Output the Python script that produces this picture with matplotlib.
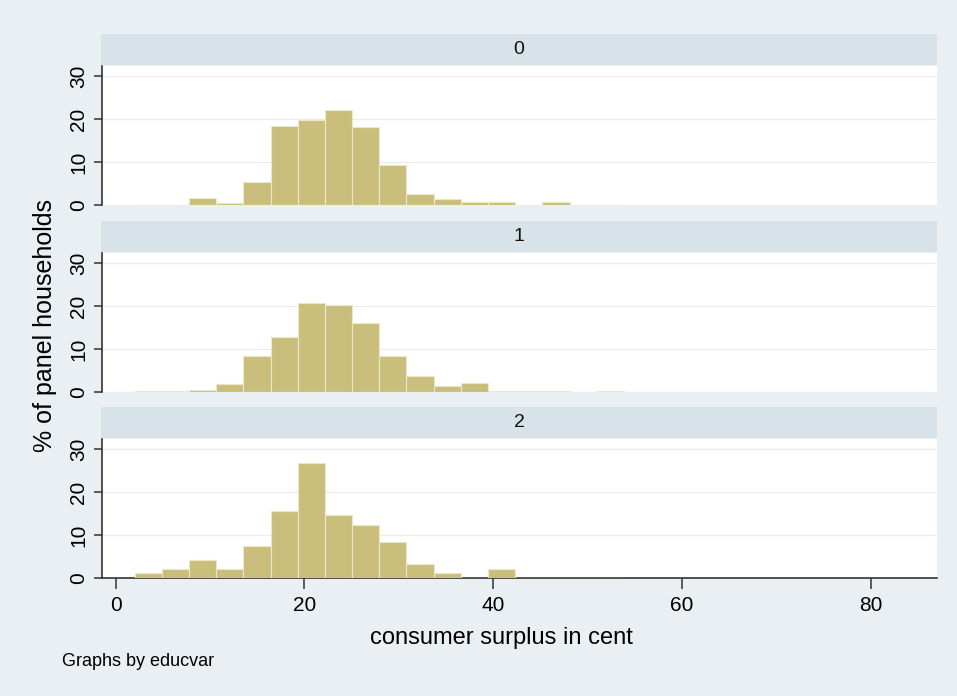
import numpy as np
import matplotlib
matplotlib.use("Agg")
import matplotlib.pyplot as plt

# histogram bins (consumer surplus in cent)
bin_start = 2.0
bin_width = 2.88

# percent of panel households per bin, one list per educvar group
groups = ["0", "1", "2"]
pct_0 = [0, 0, 1.7, 0.55, 5.4, 18.5, 19.8, 22.1, 18.2, 9.4, 2.5, 1.3, 0.7, 0.7, 0, 0.7, 0, 0]
pct_1 = [0.15, 0.15, 0.55, 1.8, 8.4, 12.9, 20.7, 20.3, 16.2, 8.4, 3.7, 1.5, 2.1, 0.3, 0.3, 0.15, 0, 0.15]
pct_2 = [1.1, 2.2, 4.2, 2.2, 7.5, 15.7, 26.9, 14.6, 12.4, 8.4, 3.2, 1.2, 0, 2.1, 0, 0, 0, 0]

x_ticks = [0, 20, 40, 60, 80]
y_ticks = [0, 10, 20, 30]

BG = "#e9eff2"
STRIP = "#d8e3e9"
BAR = "#c9be7c"
BAR_EDGE = "#ece7c9"
AXIS = "#333333"

W, H = 957, 696


def px_rect(left, top, right, bottom):
    # pixel box -> figure fraction [l, b, w, h]
    return [left / W, 1 - bottom / H, (right - left) / W, (bottom - top) / H]


def main():
    plt.rcParams["font.family"] = ["Liberation Sans", "DejaVu Sans"]
    fig = plt.figure(figsize=(W / 100, H / 100), dpi=100, facecolor=BG)

    lefts = bin_start + bin_width * np.arange(len(pct_0))
    data = [pct_0, pct_1, pct_2]
    strip_tops = [34, 221, 407]

    for i, (name, pct) in enumerate(zip(groups, data)):
        top = strip_tops[i]
        # strip header
        sax = fig.add_axes(px_rect(101, top, 937, top + 31))
        sax.set_facecolor(STRIP)
        sax.set_xticks([])
        sax.set_yticks([])
        for s in sax.spines.values():
            s.set_visible(False)
        sax.text(0.5, 0.5, name, ha="center", va="center", fontsize=14, color="#111111",
                 transform=sax.transAxes)

        ax = fig.add_axes(px_rect(102, top + 32, 937, top + 171))
        ax.set_facecolor("white")
        ax.bar(lefts, pct, width=bin_width, align="edge", color=BAR,
               edgecolor=BAR_EDGE, linewidth=0.8, zorder=3)
        ax.set_xlim(-1.45, 87.0)
        ax.set_ylim(0, 32.4)
        ax.set_yticks(y_ticks)
        ax.set_yticklabels([str(t) for t in y_ticks], rotation=90, va="center",
                           fontsize=15)
        ax.yaxis.grid(True, color="#ebebeb", linewidth=0.9, zorder=0)
        ax.tick_params(axis="y", direction="out", length=6, width=1.1, color=AXIS, pad=4)
        for s in ["top", "right"]:
            ax.spines[s].set_visible(False)
        ax.spines["left"].set_color(AXIS)
        ax.spines["left"].set_linewidth(1.2)

        if i < 2:
            ax.spines["bottom"].set_visible(False)
            ax.set_xticks([])
        else:
            ax.spines["bottom"].set_color(AXIS)
            ax.spines["bottom"].set_linewidth(1.2)
            ax.set_xticks(x_ticks)
            ax.set_xticklabels([str(t) for t in x_ticks], fontsize=15)
            ax.tick_params(axis="x", direction="out", length=8, width=1.1, color=AXIS, pad=5)
            ax.set_xlabel("consumer surplus in cent", fontsize=17)
            ax.xaxis.set_label_coords(0.478, -0.35)

    fig.text(45 / W, 1 - 325 / H, "% of panel households", rotation=90,
             ha="center", va="center", fontsize=18)
    fig.text(62 / W, 1 - 662 / H, "Graphs by educvar", ha="left", va="center",
             fontsize=13)

    fig.savefig("out.png", dpi=100, facecolor=BG)


if __name__ == "__main__":
    main()
